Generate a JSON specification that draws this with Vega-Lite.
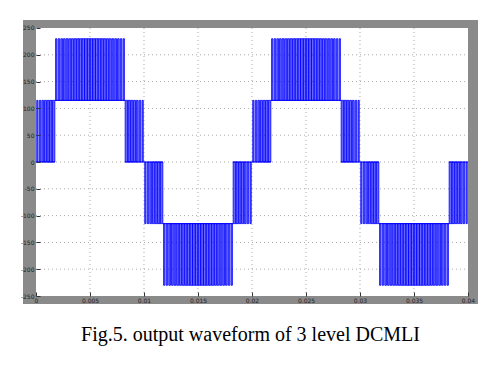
{
"$schema": "https://vega.github.io/schema/vega-lite/v6.json",
"width": 455, "height": 284,
"autosize": {"type": "none"},
"padding": {"left": 23, "top": 20, "right": 9, "bottom": 70},
"background": "white",
"config": {"view": {"fill": "#8a8a8a", "stroke": null}, "axis": {"labelOverlap": false, "labelBound": false}},
"title": {"text": "Fig.5. output waveform of 3 level DCMLI", "orient": "bottom", "anchor": "middle", "font": "Liberation Serif", "fontSize": 20, "fontWeight": "normal", "color": "black", "baseline": "alphabetic", "offset": 37},
"datasets": {
"bands": [
{"ts":0,"te":0.00175,"lo":0},{"ts":0.00175,"te":0.00825,"lo":115},{"ts":0.00825,"te":0.01175,"lo":0},{"ts":0.01175,"te":0.01825,"lo":-115},{"ts":0.01825,"te":0.02175,"lo":0},{"ts":0.02175,"te":0.02825,"lo":115},{"ts":0.02825,"te":0.03175,"lo":0},{"ts":0.03175,"te":0.03825,"lo":-115},{"ts":0.03825,"te":0.04,"lo":0}
],
"pulses": [
{"a":0.000069,"b":0.000181,"lo":0,"hi":115},{"a":0.000306,"b":0.000444,"lo":0,"hi":115},{"a":0.000544,"b":0.000706,"lo":0,"hi":115},{"a":0.000785,"b":0.000965,"lo":0,"hi":115},{"a":0.001025,"b":0.001225,"lo":0,"hi":115},{"a":0.001265,"b":0.001485,"lo":0,"hi":115},{"a":0.001506,"b":0.001744,"lo":0,"hi":115},
{"a":0.001813,"b":0.001938,"lo":115,"hi":230},{"a":0.002056,"b":0.002194,"lo":115,"hi":230},{"a":0.0023,"b":0.00245,"lo":115,"hi":230},{"a":0.002544,"b":0.002706,"lo":115,"hi":230},{"a":0.002788,"b":0.002963,"lo":115,"hi":230},{"a":0.003031,"b":0.003219,"lo":115,"hi":230},{"a":0.003282,"b":0.003468,"lo":115,"hi":230},{"a":0.003523,"b":0.003727,"lo":115,"hi":230},{"a":0.003765,"b":0.003985,"lo":115,"hi":230},{"a":0.004009,"b":0.004241,"lo":115,"hi":230},{"a":0.004255,"b":0.004495,"lo":115,"hi":230},{"a":0.004502,"b":0.004748,"lo":115,"hi":230},{"a":0.00475,"b":0.005,"lo":115,"hi":230},
{"a":0.005,"b":0.00525,"lo":115,"hi":230},{"a":0.005252,"b":0.005498,"lo":115,"hi":230},{"a":0.005505,"b":0.005745,"lo":115,"hi":230},{"a":0.005759,"b":0.005991,"lo":115,"hi":230},{"a":0.006015,"b":0.006235,"lo":115,"hi":230},{"a":0.006273,"b":0.006477,"lo":115,"hi":230},{"a":0.006532,"b":0.006718,"lo":115,"hi":230},{"a":0.006781,"b":0.006969,"lo":115,"hi":230},{"a":0.007037,"b":0.007212,"lo":115,"hi":230},{"a":0.007294,"b":0.007456,"lo":115,"hi":230},{"a":0.00755,"b":0.0077,"lo":115,"hi":230},{"a":0.007806,"b":0.007944,"lo":115,"hi":230},{"a":0.008062,"b":0.008187,"lo":115,"hi":230},
{"a":0.008256,"b":0.008494,"lo":0,"hi":115},{"a":0.008515,"b":0.008735,"lo":0,"hi":115},{"a":0.008775,"b":0.008975,"lo":0,"hi":115},{"a":0.009035,"b":0.009215,"lo":0,"hi":115},{"a":0.009294,"b":0.009456,"lo":0,"hi":115},{"a":0.009556,"b":0.009694,"lo":0,"hi":115},{"a":0.009819,"b":0.009931,"lo":0,"hi":115},
{"a":0.010069,"b":0.010181,"lo":0,"hi":-115},{"a":0.010306,"b":0.010444,"lo":0,"hi":-115},{"a":0.010544,"b":0.010706,"lo":0,"hi":-115},{"a":0.010785,"b":0.010965,"lo":0,"hi":-115},{"a":0.011025,"b":0.011225,"lo":0,"hi":-115},{"a":0.011265,"b":0.011485,"lo":0,"hi":-115},{"a":0.011506,"b":0.011744,"lo":0,"hi":-115},
{"a":0.011813,"b":0.011938,"lo":-115,"hi":-230},{"a":0.012056,"b":0.012194,"lo":-115,"hi":-230},{"a":0.0123,"b":0.01245,"lo":-115,"hi":-230},{"a":0.012544,"b":0.012706,"lo":-115,"hi":-230},{"a":0.012788,"b":0.012963,"lo":-115,"hi":-230},{"a":0.013031,"b":0.013219,"lo":-115,"hi":-230},{"a":0.013282,"b":0.013468,"lo":-115,"hi":-230},{"a":0.013523,"b":0.013727,"lo":-115,"hi":-230},{"a":0.013765,"b":0.013985,"lo":-115,"hi":-230},{"a":0.014009,"b":0.014241,"lo":-115,"hi":-230},{"a":0.014255,"b":0.014495,"lo":-115,"hi":-230},{"a":0.014502,"b":0.014748,"lo":-115,"hi":-230},{"a":0.01475,"b":0.015,"lo":-115,"hi":-230},
{"a":0.015,"b":0.01525,"lo":-115,"hi":-230},{"a":0.015252,"b":0.015498,"lo":-115,"hi":-230},{"a":0.015505,"b":0.015745,"lo":-115,"hi":-230},{"a":0.015759,"b":0.015991,"lo":-115,"hi":-230},{"a":0.016015,"b":0.016235,"lo":-115,"hi":-230},{"a":0.016273,"b":0.016477,"lo":-115,"hi":-230},{"a":0.016532,"b":0.016718,"lo":-115,"hi":-230},{"a":0.016781,"b":0.016969,"lo":-115,"hi":-230},{"a":0.017037,"b":0.017212,"lo":-115,"hi":-230},{"a":0.017294,"b":0.017456,"lo":-115,"hi":-230},{"a":0.01755,"b":0.0177,"lo":-115,"hi":-230},{"a":0.017806,"b":0.017944,"lo":-115,"hi":-230},{"a":0.018062,"b":0.018187,"lo":-115,"hi":-230},
{"a":0.018256,"b":0.018494,"lo":0,"hi":-115},{"a":0.018515,"b":0.018735,"lo":0,"hi":-115},{"a":0.018775,"b":0.018975,"lo":0,"hi":-115},{"a":0.019035,"b":0.019215,"lo":0,"hi":-115},{"a":0.019294,"b":0.019456,"lo":0,"hi":-115},{"a":0.019556,"b":0.019694,"lo":0,"hi":-115},{"a":0.019819,"b":0.019931,"lo":0,"hi":-115},
{"a":0.020069,"b":0.020181,"lo":0,"hi":115},{"a":0.020306,"b":0.020444,"lo":0,"hi":115},{"a":0.020544,"b":0.020706,"lo":0,"hi":115},{"a":0.020785,"b":0.020965,"lo":0,"hi":115},{"a":0.021025,"b":0.021225,"lo":0,"hi":115},{"a":0.021265,"b":0.021485,"lo":0,"hi":115},{"a":0.021506,"b":0.021744,"lo":0,"hi":115},
{"a":0.021813,"b":0.021938,"lo":115,"hi":230},{"a":0.022056,"b":0.022194,"lo":115,"hi":230},{"a":0.0223,"b":0.02245,"lo":115,"hi":230},{"a":0.022544,"b":0.022706,"lo":115,"hi":230},{"a":0.022788,"b":0.022963,"lo":115,"hi":230},{"a":0.023031,"b":0.023219,"lo":115,"hi":230},{"a":0.023282,"b":0.023468,"lo":115,"hi":230},{"a":0.023523,"b":0.023727,"lo":115,"hi":230},{"a":0.023765,"b":0.023985,"lo":115,"hi":230},{"a":0.024009,"b":0.024241,"lo":115,"hi":230},{"a":0.024255,"b":0.024495,"lo":115,"hi":230},{"a":0.024502,"b":0.024748,"lo":115,"hi":230},{"a":0.02475,"b":0.025,"lo":115,"hi":230},
{"a":0.025,"b":0.02525,"lo":115,"hi":230},{"a":0.025252,"b":0.025498,"lo":115,"hi":230},{"a":0.025505,"b":0.025745,"lo":115,"hi":230},{"a":0.025759,"b":0.025991,"lo":115,"hi":230},{"a":0.026015,"b":0.026235,"lo":115,"hi":230},{"a":0.026273,"b":0.026477,"lo":115,"hi":230},{"a":0.026532,"b":0.026718,"lo":115,"hi":230},{"a":0.026781,"b":0.026969,"lo":115,"hi":230},{"a":0.027037,"b":0.027212,"lo":115,"hi":230},{"a":0.027294,"b":0.027456,"lo":115,"hi":230},{"a":0.02755,"b":0.0277,"lo":115,"hi":230},{"a":0.027806,"b":0.027944,"lo":115,"hi":230},{"a":0.028062,"b":0.028187,"lo":115,"hi":230},
{"a":0.028256,"b":0.028494,"lo":0,"hi":115},{"a":0.028515,"b":0.028735,"lo":0,"hi":115},{"a":0.028775,"b":0.028975,"lo":0,"hi":115},{"a":0.029035,"b":0.029215,"lo":0,"hi":115},{"a":0.029294,"b":0.029456,"lo":0,"hi":115},{"a":0.029556,"b":0.029694,"lo":0,"hi":115},{"a":0.029819,"b":0.029931,"lo":0,"hi":115},
{"a":0.030069,"b":0.030181,"lo":0,"hi":-115},{"a":0.030306,"b":0.030444,"lo":0,"hi":-115},{"a":0.030544,"b":0.030706,"lo":0,"hi":-115},{"a":0.030785,"b":0.030965,"lo":0,"hi":-115},{"a":0.031025,"b":0.031225,"lo":0,"hi":-115},{"a":0.031265,"b":0.031485,"lo":0,"hi":-115},{"a":0.031506,"b":0.031744,"lo":0,"hi":-115},
{"a":0.031813,"b":0.031938,"lo":-115,"hi":-230},{"a":0.032056,"b":0.032194,"lo":-115,"hi":-230},{"a":0.0323,"b":0.03245,"lo":-115,"hi":-230},{"a":0.032544,"b":0.032706,"lo":-115,"hi":-230},{"a":0.032788,"b":0.032963,"lo":-115,"hi":-230},{"a":0.033031,"b":0.033219,"lo":-115,"hi":-230},{"a":0.033282,"b":0.033468,"lo":-115,"hi":-230},{"a":0.033523,"b":0.033727,"lo":-115,"hi":-230},{"a":0.033765,"b":0.033985,"lo":-115,"hi":-230},{"a":0.034009,"b":0.034241,"lo":-115,"hi":-230},{"a":0.034255,"b":0.034495,"lo":-115,"hi":-230},{"a":0.034502,"b":0.034748,"lo":-115,"hi":-230},{"a":0.03475,"b":0.035,"lo":-115,"hi":-230},
{"a":0.035,"b":0.03525,"lo":-115,"hi":-230},{"a":0.035252,"b":0.035498,"lo":-115,"hi":-230},{"a":0.035505,"b":0.035745,"lo":-115,"hi":-230},{"a":0.035759,"b":0.035991,"lo":-115,"hi":-230},{"a":0.036015,"b":0.036235,"lo":-115,"hi":-230},{"a":0.036273,"b":0.036477,"lo":-115,"hi":-230},{"a":0.036532,"b":0.036718,"lo":-115,"hi":-230},{"a":0.036781,"b":0.036969,"lo":-115,"hi":-230},{"a":0.037037,"b":0.037212,"lo":-115,"hi":-230},{"a":0.037294,"b":0.037456,"lo":-115,"hi":-230},{"a":0.03755,"b":0.0377,"lo":-115,"hi":-230},{"a":0.037806,"b":0.037944,"lo":-115,"hi":-230},{"a":0.038062,"b":0.038187,"lo":-115,"hi":-230},
{"a":0.038256,"b":0.038494,"lo":0,"hi":-115},{"a":0.038515,"b":0.038735,"lo":0,"hi":-115},{"a":0.038775,"b":0.038975,"lo":0,"hi":-115},{"a":0.039035,"b":0.039215,"lo":0,"hi":-115},{"a":0.039294,"b":0.039456,"lo":0,"hi":-115},{"a":0.039556,"b":0.039694,"lo":0,"hi":-115},{"a":0.039819,"b":0.039931,"lo":0,"hi":-115}
]
},
"layer": [
{"data": {"values": [{}]}, "mark": {"type": "rect", "color": "white"},
 "encoding": {"x": {"datum": 0, "type": "quantitative"}, "x2": {"datum": 0.04}, "y": {"datum": 250, "type": "quantitative"}, "y2": {"datum": -250}}},
{"data": {"values": [{}]}, "mark": {"type": "rule", "color": "#a8a8a8", "strokeDash": [1, 3]}, "encoding": {"x": {"datum": 0.005, "type": "quantitative"}, "y": {"datum": 250, "type": "quantitative"}, "y2": {"datum": -250}}},
{"data": {"values": [{}]}, "mark": {"type": "rule", "color": "#a8a8a8", "strokeDash": [1, 3]}, "encoding": {"x": {"datum": 0.01, "type": "quantitative"}, "y": {"datum": 250, "type": "quantitative"}, "y2": {"datum": -250}}},
{"data": {"values": [{}]}, "mark": {"type": "rule", "color": "#a8a8a8", "strokeDash": [1, 3]}, "encoding": {"x": {"datum": 0.015, "type": "quantitative"}, "y": {"datum": 250, "type": "quantitative"}, "y2": {"datum": -250}}},
{"data": {"values": [{}]}, "mark": {"type": "rule", "color": "#a8a8a8", "strokeDash": [1, 3]}, "encoding": {"x": {"datum": 0.02, "type": "quantitative"}, "y": {"datum": 250, "type": "quantitative"}, "y2": {"datum": -250}}},
{"data": {"values": [{}]}, "mark": {"type": "rule", "color": "#a8a8a8", "strokeDash": [1, 3]}, "encoding": {"x": {"datum": 0.025, "type": "quantitative"}, "y": {"datum": 250, "type": "quantitative"}, "y2": {"datum": -250}}},
{"data": {"values": [{}]}, "mark": {"type": "rule", "color": "#a8a8a8", "strokeDash": [1, 3]}, "encoding": {"x": {"datum": 0.03, "type": "quantitative"}, "y": {"datum": 250, "type": "quantitative"}, "y2": {"datum": -250}}},
{"data": {"values": [{}]}, "mark": {"type": "rule", "color": "#a8a8a8", "strokeDash": [1, 3]}, "encoding": {"x": {"datum": 0.035, "type": "quantitative"}, "y": {"datum": 250, "type": "quantitative"}, "y2": {"datum": -250}}},
{"data": {"values": [{}]}, "mark": {"type": "rule", "color": "#a8a8a8", "strokeDash": [1, 3]}, "encoding": {"y": {"datum": 200, "type": "quantitative"}, "x": {"datum": 0, "type": "quantitative"}, "x2": {"datum": 0.04}}},
{"data": {"values": [{}]}, "mark": {"type": "rule", "color": "#a8a8a8", "strokeDash": [1, 3]}, "encoding": {"y": {"datum": 150, "type": "quantitative"}, "x": {"datum": 0, "type": "quantitative"}, "x2": {"datum": 0.04}}},
{"data": {"values": [{}]}, "mark": {"type": "rule", "color": "#a8a8a8", "strokeDash": [1, 3]}, "encoding": {"y": {"datum": 100, "type": "quantitative"}, "x": {"datum": 0, "type": "quantitative"}, "x2": {"datum": 0.04}}},
{"data": {"values": [{}]}, "mark": {"type": "rule", "color": "#a8a8a8", "strokeDash": [1, 3]}, "encoding": {"y": {"datum": 50, "type": "quantitative"}, "x": {"datum": 0, "type": "quantitative"}, "x2": {"datum": 0.04}}},
{"data": {"values": [{}]}, "mark": {"type": "rule", "color": "#a8a8a8", "strokeDash": [1, 3]}, "encoding": {"y": {"datum": 0, "type": "quantitative"}, "x": {"datum": 0, "type": "quantitative"}, "x2": {"datum": 0.04}}},
{"data": {"values": [{}]}, "mark": {"type": "rule", "color": "#a8a8a8", "strokeDash": [1, 3]}, "encoding": {"y": {"datum": -50, "type": "quantitative"}, "x": {"datum": 0, "type": "quantitative"}, "x2": {"datum": 0.04}}},
{"data": {"values": [{}]}, "mark": {"type": "rule", "color": "#a8a8a8", "strokeDash": [1, 3]}, "encoding": {"y": {"datum": -100, "type": "quantitative"}, "x": {"datum": 0, "type": "quantitative"}, "x2": {"datum": 0.04}}},
{"data": {"values": [{}]}, "mark": {"type": "rule", "color": "#a8a8a8", "strokeDash": [1, 3]}, "encoding": {"y": {"datum": -150, "type": "quantitative"}, "x": {"datum": 0, "type": "quantitative"}, "x2": {"datum": 0.04}}},
{"data": {"values": [{}]}, "mark": {"type": "rule", "color": "#a8a8a8", "strokeDash": [1, 3]}, "encoding": {"y": {"datum": -200, "type": "quantitative"}, "x": {"datum": 0, "type": "quantitative"}, "x2": {"datum": 0.04}}},
{"data": {"name": "bands"},
 "mark": {"type": "rule", "color": "#0000ff", "strokeWidth": 1},
 "encoding": {
  "x": {"field": "ts", "type": "quantitative", "scale": {"domain": [-0.0012037, 0.0409259], "nice": false, "zero": false},
        "axis": {"title": null, "zindex": 1, "offset": -8, "tickCount": 30, "values": [0,0.005,0.01,0.015,0.02,0.025,0.03,0.035,0.04], "labelExpr": "'' + datum.value", "labelFont": "DejaVu Sans", "labelFontSize": 6, "labelColor": "#222", "labelPadding": 5, "labelFlush": false, "labelOverlap": false, "domain": false, "ticks": true, "tickSize": -4, "tickColor": "#333", "grid": false}},
  "x2": {"field": "te"},
  "y": {"field": "lo", "type": "quantitative", "scale": {"domain": [-264.925, 264.925], "nice": false, "zero": false},
        "axis": {"title": null, "zindex": 1, "offset": -13, "tickCount": 30, "values": [-250,-200,-150,-100,-50,0,50,100,150,200,250], "labelExpr": "'' + datum.value", "labelFont": "DejaVu Sans", "labelFontSize": 6, "labelColor": "#222", "labelPadding": 6, "labelFlush": false, "labelOverlap": false, "domain": false, "ticks": true, "tickSize": -4, "tickColor": "#333", "grid": false}}
 }},
{"data": {"name": "pulses"},
 "mark": {"type": "rect", "fill": "#0000ff", "fillOpacity": 0.6, "stroke": "#0000ff", "strokeWidth": 0.8},
 "encoding": {
  "x": {"field": "a", "type": "quantitative"},
  "x2": {"field": "b"},
  "y": {"field": "lo", "type": "quantitative"},
  "y2": {"field": "hi"}
 }}
]
}
